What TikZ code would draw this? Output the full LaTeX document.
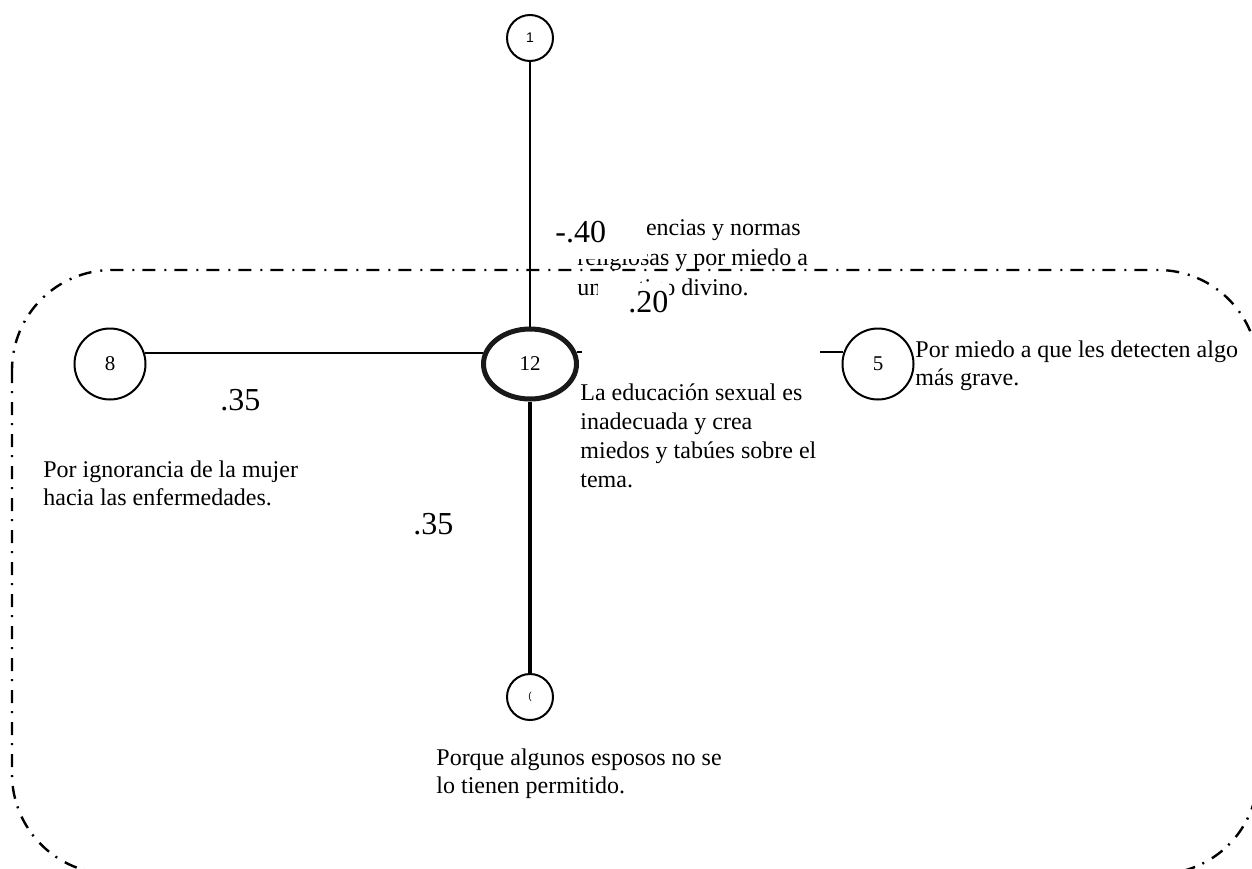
\documentclass[tikz,border=0pt]{standalone}
\usepackage{fontspec}
\setmainfont{Liberation Serif}
\setsansfont{Liberation Sans}
\usetikzlibrary{shapes.geometric}
\begin{document}
\begin{tikzpicture}[x=0.5pt,y=-0.5pt,
  smallc/.style={circle,draw,line width=1pt,inner sep=0pt,minimum size=23pt},
  bigc/.style={circle,draw,line width=1pt,inner sep=0pt,minimum size=35.5pt,font=\fontsize{10.5}{12}\selectfont},
  ell/.style={ellipse,draw=black!90,line width=2.5pt,inner sep=0pt,minimum width=46.5pt,minimum height=35pt,font=\fontsize{10.5}{12}\selectfont},
  edge/.style={draw,line width=1pt},
  txt/.style={anchor=base west,inner sep=0pt,align=left,font=\fontsize{12}{14.35}\selectfont},
  lbl/.style={anchor=base west,inner sep=0pt,font=\fontsize{16}{18}\selectfont},
  border/.style={line width=1.2pt,dash pattern=on 6.5pt off 4pt on 1pt off 4.5pt,rounded corners=50pt}]
\clip (0,0) rectangle (1252,868);
\useasboundingbox (0,0) rectangle (1252,868);
% nodes
\node[smallc] (n1) at (530,38) {\sffamily\fontsize{7}{8}\selectfont 1};
\node[ell] (n12) at (530,364) {12};
\node[bigc] (n8) at (110,364) {8};
\node[bigc] (n5) at (878,364) {5};
\node[smallc] (n6) at (530,697) {\sffamily\fontsize{5}{6}\selectfont (};
% connectors
\draw[edge] (n1) -- (n12);
\draw[edge] (n8.18) -- (n8.18 -| n12.166);
\draw[edge] (n12.14) -- (n12.14 -| n5.162);
\draw[edge,line width=2pt] (n12) -- (n6);
% texts (base anchor = baseline of last line)
\node[txt,font=\fontsize{12}{15}\selectfont] (t1) at (577,295) {Por creencias y normas\\religiosas y por miedo a\\un castigo divino.};
\node[txt] (t12) at (580,487) {La educación sexual es\\inadecuada y crea\\miedos y tabúes sobre el\\tema.};
\node[txt,font=\fontsize{12}{14}\selectfont] (t5) at (915,385) {Por miedo a que les detecten algo\\más grave.};
\node[txt,font=\fontsize{12}{14}\selectfont] (t8) at (43,505) {Por ignorancia de la mujer\\hacia las enfermedades.};
\node[txt,font=\fontsize{12}{13.75}\selectfont] (t6) at (436,793) {Porque algunos esposos no se\\lo tienen permitido.};
% white covers
\fill[white] (582,346) rectangle (820,361);
\fill[white] (553,213) rectangle (647,259);
\fill[white] (598,283) rectangle (669,318);
% labels
\node[lbl] (l40) at (555,242) {-.40};
\node[lbl] (l20) at (628,312) {.20};
\node[lbl] (l35a) at (220,410) {.35};
\node[lbl] (l35b) at (413,534) {.35};
% border
\draw[border] (12,270) rectangle (1258,874);
\end{tikzpicture}
\end{document}
